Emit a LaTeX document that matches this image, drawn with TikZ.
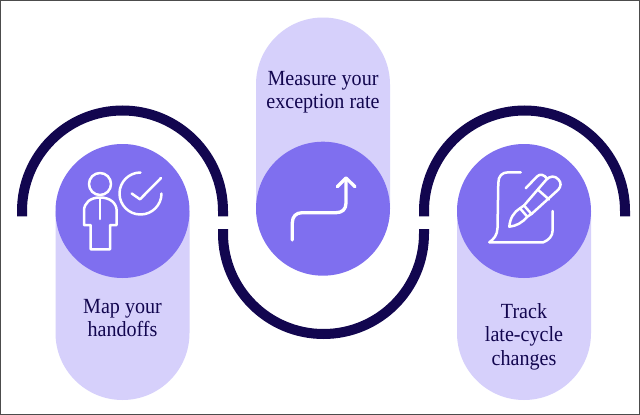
\documentclass[tikz,border=0pt]{standalone}
\usepackage{fontspec}
\setmainfont[FakeStretch=0.93]{Liberation Serif}
\definecolor{navy}{HTML}{12064F}
\definecolor{violet}{HTML}{7F6FEF}
\definecolor{lilac}{HTML}{D6D0FB}
\tikzset{
  arcline/.style={draw=navy,line width=10pt},
  pill/.style={fill=lilac},
  disc/.style={fill=violet},
  icon/.style={draw=white,line width=2.5pt,line cap=round,line join=round},
  caption/.style={anchor=base,text=navy,inner sep=0pt,font=\fontsize{21.6}{25}\selectfont}
}
\begin{document}
\begin{tikzpicture}[x=1pt,y=-1pt]
\useasboundingbox (0,0) rectangle (640,415);
\fill[white] (0,0) rectangle (640,415);
\draw[draw=black!70,line width=1pt] (0.5,0.5) rectangle (639.5,414.5);
% pills
\path[pill] (55.5,211) -- (55.5,333) arc[start angle=180,end angle=0,radius=67] -- (189.5,211) -- cycle;
\path[pill] (256,209) -- (256,84.5) arc[start angle=-180,end angle=0,radius=67] -- (390,209) -- cycle;
\path[pill] (457,211) -- (457,333) arc[start angle=180,end angle=0,radius=67] -- (591,211) -- cycle;
% arcs
\draw[arcline] (22,216.3) -- (22,211) arc[start angle=180,end angle=360,radius=100.5] -- (223,216.3);
\draw[arcline] (223,229) -- (223,233.5) arc[start angle=180,end angle=0,radius=100.5] -- (424,229);
\draw[arcline] (424,216.3) -- (424,211) arc[start angle=180,end angle=360,radius=100.5] -- (625,216.3);
% discs
\path[disc] (122.5,211) circle[radius=67];
\path[disc] (323,208.7) circle[radius=67];
\path[disc] (524,211) circle[radius=67];
% person + check
\draw[icon] (100,184) circle[radius=11];
\draw[icon] (100,197.5) .. controls (90,197.5) and (84,203) .. (84,211) -- (84,225) -- (90.7,225) -- (90.7,249.3) -- (110,249.3) -- (110,225) -- (116.7,225) -- (116.7,211) .. controls (116.7,203) and (110,197.5) .. (100,197.5) -- cycle;
\draw[icon] (100,198) -- (100,219);
\draw[icon] (140.5,172.5) arc[start angle=-90,end angle=-360,radius=21];
\draw[icon] (131.7,193.5) -- (140,199.3) -- (161,178);
% arrow
\draw[icon,line width=3.3pt] (292.3,240) -- (292.3,223) .. controls (292.3,216.5) and (296,212.7) .. (302,212.7) -- (336,212.7) .. controls (342.5,212.7) and (346,209) .. (346,203) -- (346,178);
\draw[icon,line width=3.3pt] (337.3,186.7) -- (346,178) -- (355,186.7);
% paper
\draw[icon] (520.7,172.3) -- (508.3,172.3) .. controls (502,172.3) and (498.3,176) .. (498.3,183) -- (497.5,228) .. controls (497.3,235) and (494,239) .. (489.3,242.3) -- (543.3,242.3) .. controls (549,240) and (552.7,236) .. (552.7,230) -- (552.7,211);
% pen
\draw[icon] (509.3,226.7) .. controls (510,218) and (514,212) .. (520,208.3) -- (527.3,216.7) .. controls (522,223) and (516,226) .. (509.3,226.7) -- cycle;
\draw[icon] (520,208.3) -- (524,205.5) -- (531.5,214) -- (527.3,216.7);
\draw[icon] (524,205.5) -- (546,180) .. controls (550,175.5) and (555,175.5) .. (558.5,179.5) .. controls (561.5,183) and (561,186) .. (558.5,189.5) -- (531.5,214);
\draw[icon] (538.3,190) -- (549,199.5);
\draw[icon] (525.7,188.3) -- (537,176.5) .. controls (540,173.5) and (544,174.5) .. (547,178.5);
% text
\node[caption] (t1a) at (122.5,313) {Map your};
\node[caption] (t1b) at (122.5,336) {handoffs};
\node[caption] (t2a) at (323,85) {Measure your};
\node[caption] (t2b) at (323,108) {exception rate};
\node[caption] (t3a) at (524,318) {Track};
\node[caption] (t3b) at (524,341.5) {late-cycle};
\node[caption] (t3c) at (524,365) {changes};
\end{tikzpicture}
\end{document}
